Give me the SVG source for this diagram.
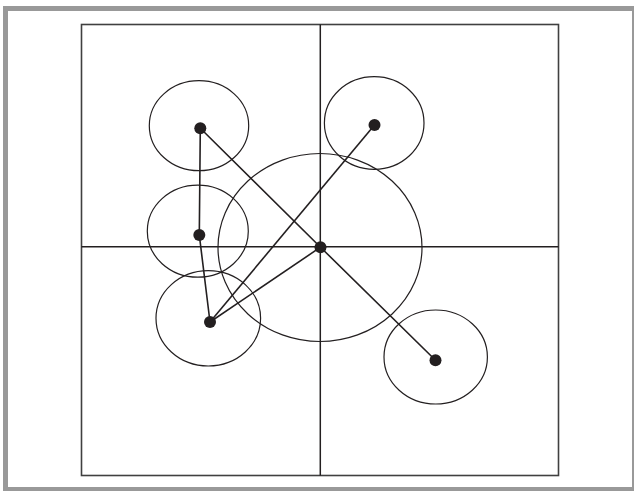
<svg xmlns="http://www.w3.org/2000/svg" width="634" height="491" viewBox="0 0 634 491">
<style>
.frame{fill:none;stroke:#999;stroke-width:5}
.box{fill:none;stroke:#404040;stroke-width:1.6}
.axis{stroke:#231f20;stroke-width:1.5}
.ring{fill:none;stroke:#231f20;stroke-width:1.2}
.edge{stroke:#231f20;stroke-width:1.6;fill:none}
.dot{fill:#231f20}
</style>
<rect x="0" y="0" width="634" height="491" fill="#fff"/>
<rect class="frame" x="5.5" y="8.5" width="630" height="481"/>
<rect x="632" y="8" width="2" height="483" fill="#999"/>
<rect class="box" x="81.5" y="24.5" width="477" height="451"/>
<g id="axes">
<line class="axis" x1="320.3" y1="24.5" x2="320.3" y2="475.5"/>
<line class="axis" x1="81.5" y1="246.7" x2="558.5" y2="246.7"/>
</g>
<g id="connectors">
<polyline class="edge" points="200.3,128.3 199.3,235 210,322"/>
<polyline class="edge" points="200.3,128.3 320.5,247.2 435.5,360.3"/>
<line class="edge" x1="210" y1="322" x2="320.5" y2="247.2"/>
<line class="edge" x1="210" y1="322" x2="374.5" y2="125"/>
</g>
<g id="node-center"><ellipse class="ring" cx="320" cy="247.5" rx="102" ry="94"/><circle class="dot" cx="320.5" cy="247.2" r="6"/></g>
<g id="node-topleft"><ellipse class="ring" cx="199" cy="125.7" rx="49.7" ry="45"/><circle class="dot" cx="200.3" cy="128.3" r="6"/></g>
<g id="node-midleft"><ellipse class="ring" cx="197.8" cy="231.2" rx="50.5" ry="46"/><circle class="dot" cx="199.3" cy="235" r="6"/></g>
<g id="node-bottomleft"><ellipse class="ring" cx="208.3" cy="318.3" rx="52.3" ry="47.7"/><circle class="dot" cx="210" cy="322" r="6"/></g>
<g id="node-topright"><ellipse class="ring" cx="374.2" cy="123" rx="49.8" ry="46.3"/><circle class="dot" cx="374.5" cy="125" r="6"/></g>
<g id="node-bottomright"><ellipse class="ring" cx="435.7" cy="357" rx="51.7" ry="47"/><circle class="dot" cx="435.5" cy="360.3" r="6"/></g>
</svg>
